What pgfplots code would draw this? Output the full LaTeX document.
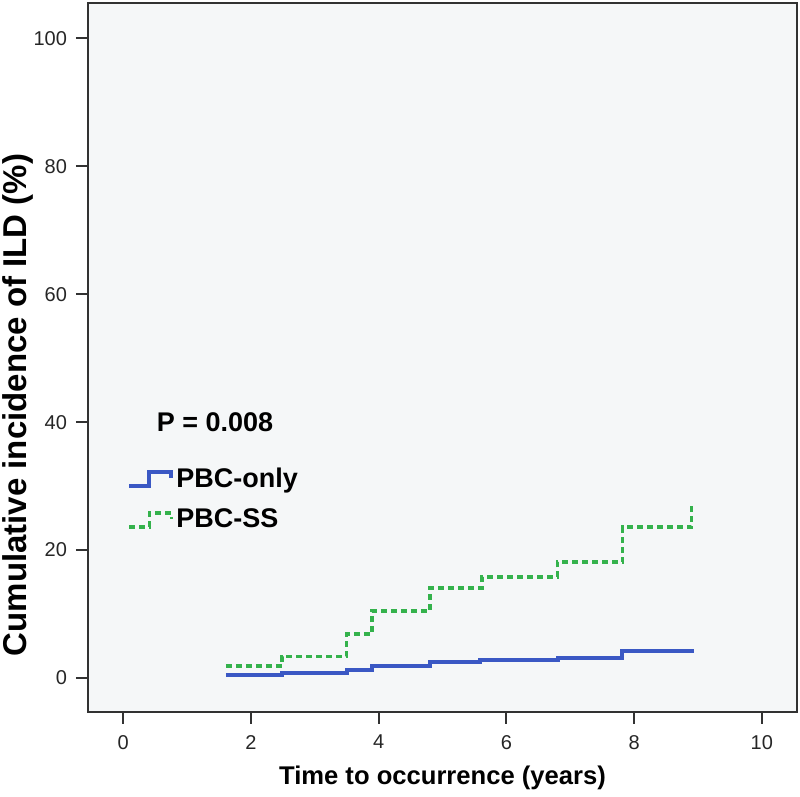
\documentclass[border=0pt]{standalone}
\usepackage{pgfplots}
\pgfplotsset{compat=1.18}
\usepackage{fontspec}
\setmainfont{Liberation Sans}
\definecolor{bgc}{RGB}{245,247,248}
\definecolor{kmblue}{RGB}{58,88,196}
\definecolor{kmgreen}{RGB}{52,178,76}
\definecolor{framec}{RGB}{50,50,50}
\begin{document}
\begin{tikzpicture}
\begin{axis}[
  scale only axis,
  width=354.5pt, height=354.5pt,
  xmin=-0.55, xmax=10.55,
  ymin=-5.3, ymax=105.5,
  xtick={0,2,4,6,8,10},
  ytick={0,20,40,60,80,100},
  tick pos=left,
  tick align=outside,
  major tick length=6pt,
  tick style={line width=1pt, color=framec},
  axis line style={line width=1pt, color=framec},
  axis background/.style={fill=bgc},
  /pgf/number format/assume math mode=true,
  ticklabel style={font=\fontsize{10}{12}\selectfont, color=black!85},
  xticklabel style={yshift=-2pt},
  yticklabel style={xshift=-1pt},
  xlabel={\textbf{Time to occurrence (years)}},
  ylabel={\textbf{Cumulative incidence of ILD (\%)}},
  xlabel style={font=\fontsize{12.8}{15}\selectfont, at={(axis description cs:0.5,0)}, anchor=center, yshift=-33pt},
  ylabel style={font=\fontsize{16.5}{18}\selectfont, at={(axis description cs:0,0.433)}, anchor=center, yshift=35pt},
  legend style={draw=none, fill=none, at={(axis cs:0.06,33.6)}, anchor=north west,
    font=\bfseries\fontsize{13.5}{16}\selectfont, inner sep=0pt, row sep=5.5pt,
    nodes={inner xsep=1.5pt}},
  legend cell align=left,
  legend image code/.code={
    \draw[#1] (0pt,-3.5pt) -- (10pt,-3.5pt) -- (10pt,3.5pt) -- (21pt,3.5pt) -- (21pt,0.5pt);
  },
]
\addplot[const plot, color=kmblue, line width=2pt] coordinates {
  (1.61,0.47) (2.49,0.8) (3.5,1.25) (3.9,1.9) (4.8,2.5) (5.59,2.8)
  (6.81,3.1) (7.81,4.2) (8.9,4.2) (8.9,4.5)
};
\addlegendentry{PBC-only}
\addplot[const plot, color=kmgreen, line width=1.8pt, dash pattern=on 3pt off 2pt] coordinates {
  (1.61,1.9) (2.49,3.4) (3.5,6.9) (3.9,10.5) (4.8,14.1) (5.62,15.8)
  (6.8,18.1) (7.82,23.6) (8.9,23.6) (8.9,27.3)
};
\addlegendentry{PBC-SS}
\node[font=\bfseries\fontsize{13.5}{16}\selectfont, anchor=center] at (axis cs:1.44,40) {P = 0.008};
\end{axis}
\pgfresetboundingbox
\path ([shift={(-44pt,-42.5pt)}]current axis.south west) rectangle ([shift={(1.5pt,1.5pt)}]current axis.north east);
\end{tikzpicture}
\end{document}
